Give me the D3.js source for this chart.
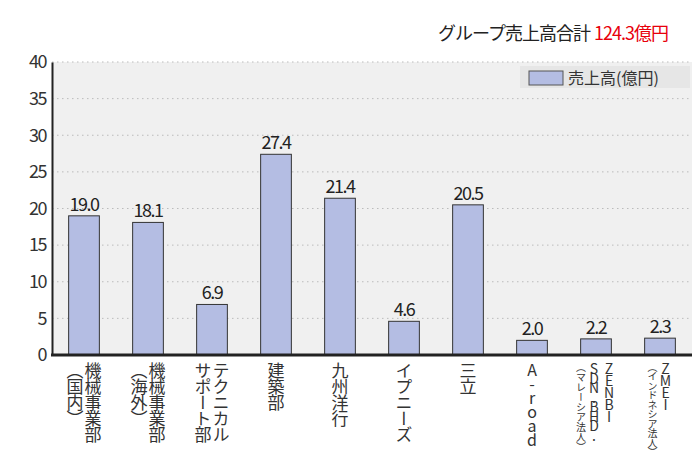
<!DOCTYPE html>
<html><head><meta charset="utf-8">
<script src="https://cdn.jsdelivr.net/npm/d3@7"></script>
<style>body{margin:0;background:#fff}text{font-family:"Noto Sans CJK JP",sans-serif}</style>
</head><body><svg width="700" height="452"></svg>
<script>
const categories=["機械事業部（国内）","機械事業部（海外）","テクニカルサポート部","建築部","九州洋行","イプニーズ","三立","A-road","ZENBI SDN.BHD.","ZMEI"];
// [text, font size, letter spacing]
const labelCols=[
 [["機械事業部",17,-1],["︵国内︶",17,-1]],
 [["機械事業部",17,-1],["︵海外︶",17,-1]],
 [["テクニカル",17,-1],["サポート部",17,-1]],
 [["建築部",17,-1]],
 [["九州洋行",17,-1]],
 [["イプニーズ",17,-1]],
 [["三立",17,-1]],
 [["A-road",16,-2]],
 [["ZENBI",14,-2],["SDN.BHD.",14,-4.5],["︵マレーシア法人︶",10,0]],
 [["ZMEI",14,-2],["︵インドネシア法人︶",10,-0.5]]
];
const values=[19.0,18.1,6.9,27.4,21.4,4.6,20.5,2.0,2.2,2.3];
const yTicks=[0,5,10,15,20,25,30,35,40];
const svg=d3.select("svg");
const L=52,R=692,T=62,B=355;
const x=d3.scaleBand().domain(categories).range([L,R]).paddingInner(0.52).paddingOuter(0.26);
const y=d3.scaleLinear().domain([0,40]).range([B,T]);
svg.append("rect").attr("x",L).attr("y",T).attr("width",R-L).attr("height",B-T).attr("fill","#f0f0f0");
svg.selectAll(".g").data(yTicks.slice(1)).join("line").attr("x1",L).attr("x2",R).attr("y1",d=>y(d)).attr("y2",d=>y(d))
 .attr("stroke","#bbb").attr("stroke-dasharray","1.5,3.5");
svg.append("rect").attr("x",520).attr("y",66).attr("width",170).attr("height",22).attr("fill","#e6e6e6");
svg.append("rect").attr("x",529).attr("y",71).attr("width",34).attr("height",14).attr("fill","#b4bde3").attr("stroke","#555");
svg.append("text").attr("x",568).attr("y",84).attr("font-size",16).attr("fill","#333").text("売上高(億円)");
svg.selectAll(".bar").data(values).join("rect").attr("x",(d,i)=>x(categories[i])).attr("width",x.bandwidth())
 .attr("y",d=>y(d)).attr("height",d=>B-y(d)).attr("fill","#b4bde3").attr("stroke","#333");
svg.selectAll(".vl").data(values).join("text").attr("x",(d,i)=>x(categories[i])+x.bandwidth()/2).attr("y",d=>y(d)-5)
 .attr("text-anchor","middle").attr("font-size",18).attr("fill","#222").attr("letter-spacing","-1.5").text(d=>d.toFixed(1));
const ya=svg.append("g").attr("transform",`translate(${L},0)`).call(d3.axisLeft(y).tickValues(yTicks).tickSize(0).tickPadding(6));
ya.select(".domain").attr("stroke","#222").attr("stroke-width",2);
ya.selectAll("text").attr("font-size",18).attr("fill","#333").attr("letter-spacing","-1.5");
svg.append("line").attr("x1",L-1).attr("x2",R).attr("y1",B).attr("y2",B).attr("stroke","#222").attr("stroke-width",3);
labelCols.forEach((cols,i)=>{
 const cx=x(categories[i])+x.bandwidth()/2;
 const ws=cols.map(c=>c[1]+1);const tot=d3.sum(ws);
 let xr=cx+tot/2;
 cols.forEach((c,j)=>{
  const w=ws[j];
  svg.append("text").attr("x",xr-w/2).attr("y",362).attr("font-size",c[1]).attr("fill","#333")
   .style("writing-mode","vertical-rl").style("text-orientation","upright").style("letter-spacing",c[2]+"px").text(c[0]);
  xr-=w;
 });
});
const t=svg.append("text").attr("x",668).attr("y",40).attr("text-anchor","end").attr("font-size",18).attr("letter-spacing","-1");
t.append("tspan").attr("fill","#222").text("グループ売上高合計");
t.append("tspan").attr("fill","#e8000b").attr("dx",4).text("124.3億円");
</script></body></html>
